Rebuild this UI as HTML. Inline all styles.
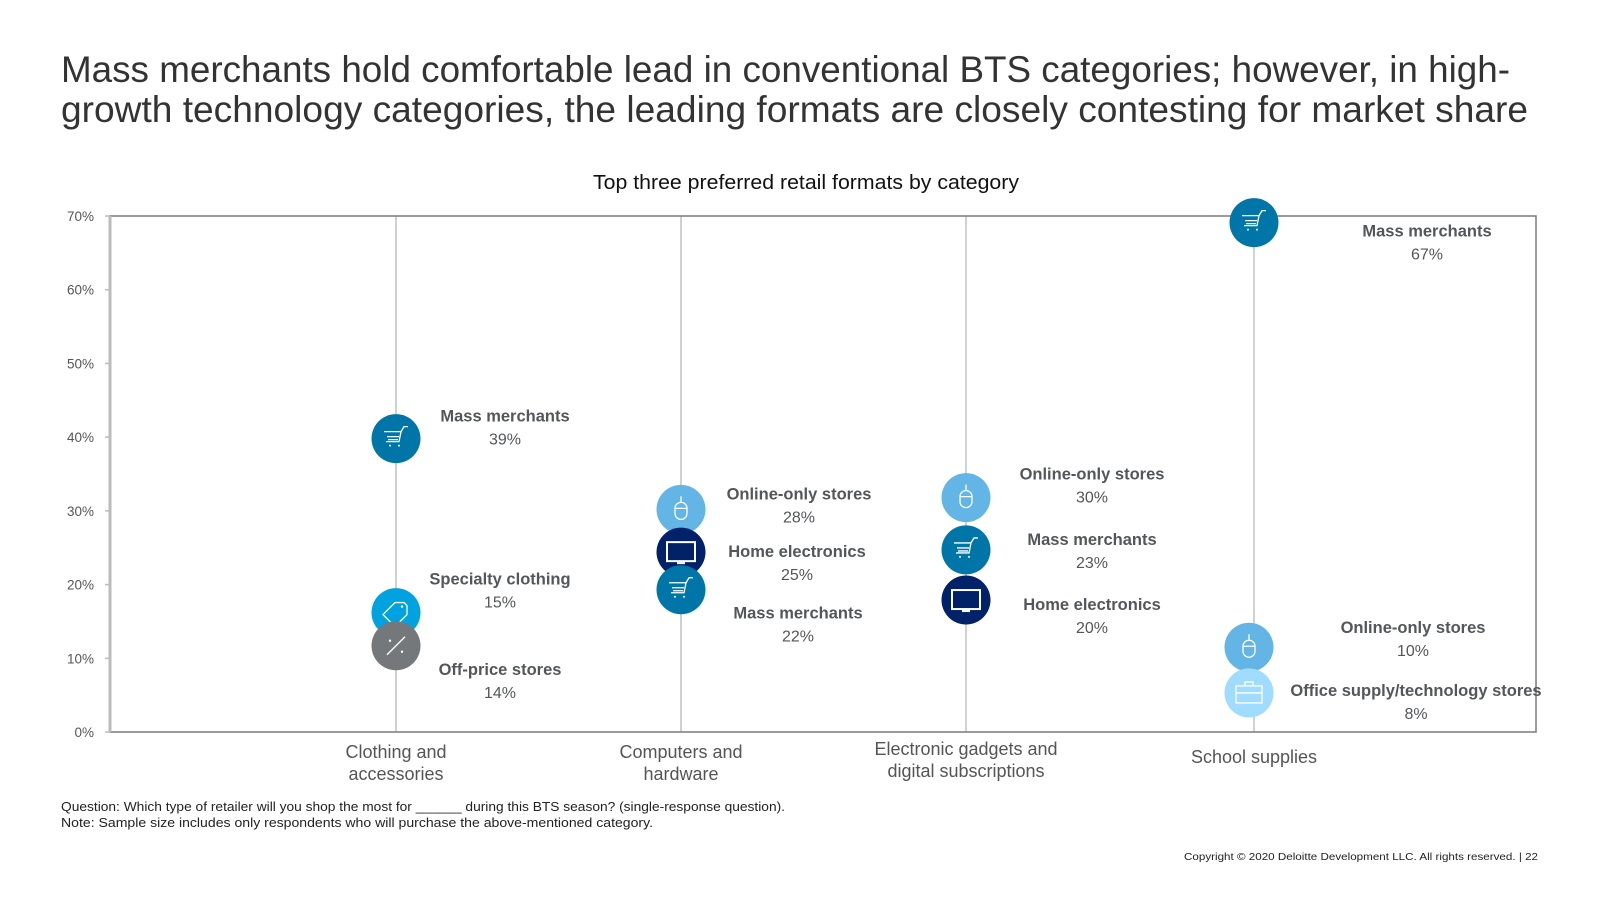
<!DOCTYPE html>
<html><head><meta charset="utf-8"><style>
html,body{margin:0;padding:0;background:#fff;}
svg{display:block;font-family:"Liberation Sans",sans-serif;}
</style></head><body>
<svg id="chart" width="1600" height="900" viewBox="0 0 1600 900">
<text x="61" y="82" font-size="37" fill="#333" textLength="1449" lengthAdjust="spacingAndGlyphs">Mass merchants hold comfortable lead in conventional BTS categories; however, in high-</text>
<text x="61" y="122" font-size="37" fill="#333" textLength="1467" lengthAdjust="spacingAndGlyphs">growth technology categories, the leading formats are closely contesting for market share</text>
<text x="806" y="189" font-size="20" fill="#111" text-anchor="middle" textLength="426" lengthAdjust="spacingAndGlyphs">Top three preferred retail formats by category</text>
<g id="axes"></g>
<g id="marks"></g>
<text x="61" y="811" font-size="12.5" fill="#222" textLength="724" lengthAdjust="spacingAndGlyphs">Question: Which type of retailer will you shop the most for ______ during this BTS season? (single-response question).</text>
<text x="61" y="827" font-size="12.5" fill="#222" textLength="592" lengthAdjust="spacingAndGlyphs">Note: Sample size includes only respondents who will purchase the above-mentioned category.</text>
<text x="1538" y="860" font-size="10.5" fill="#222" text-anchor="end" textLength="354" lengthAdjust="spacingAndGlyphs">Copyright © 2020 Deloitte Development LLC. All rights reserved.  |  22</text>
</svg>
<script>
const categories = ["Clothing and|accessories","Computers and|hardware","Electronic gadgets and|digital subscriptions","School supplies"];
const yTicks = [0,10,20,30,40,50,60,70];
const pointCategory = [0,0,0,1,1,1,2,2,2,3,3,3];
const pointFormat = ["Mass merchants","Specialty clothing","Off-price stores","Online-only stores","Home electronics","Mass merchants","Online-only stores","Mass merchants","Home electronics","Mass merchants","Online-only stores","Office supply/technology stores"];
const pointShare = [39,15,14,28,25,22,30,23,20,67,10,8];
const pointPosition = [39.8,16.2,11.7,30.2,24.4,19.3,31.8,24.7,17.9,69.1,11.5,5.3];

const NS="http://www.w3.org/2000/svg";
const L=110,R=1536,T=216,B=732,YMAX=70;
const catX=[396,681,966,1254];
function y(v){return B-(v/YMAX)*(B-T);}
function x(i){return catX[i];}
function mk(tag,attrs,parent){const e=document.createElementNS(NS,tag);for(const k in attrs)e.setAttribute(k,attrs[k]);parent.appendChild(e);return e;}
const axes=document.getElementById('axes'),marks=document.getElementById('marks');
const fmtColor={"Mass merchants":"#0076a8","Specialty clothing":"#00a3e0","Off-price stores":"#75787b","Online-only stores":"#62b5e5","Home electronics":"#012169","Office supply/technology stores":"#a0dcff"};
const fmtIcon={"Mass merchants":"cart","Specialty clothing":"tag","Off-price stores":"pct","Online-only stores":"mouse","Home electronics":"tv","Office supply/technology stores":"case"};

categories.forEach((c,i)=>{
  const ln=mk('line',{x1:x(i),x2:x(i),y1:T,y2:B,stroke:'#d0d0d0','stroke-width':2},axes);
  
  
  const parts=c.split('|');
  const t=mk('text',{x:x(i),'font-size':18,fill:'#555','text-anchor':'middle'},axes);
  
  
  if(parts.length===1){const s=mk('tspan',{x:x(i),y:763},t);s.textContent=parts[0];}
  else{const off=i===2?-3:0;parts.forEach((p,k)=>{const s=mk('tspan',{x:x(i),y:758+off+k*22},t);s.textContent=p;});}
});
const frame=mk('rect',{x:L,y:T,width:R-L,height:B-T,fill:'none',stroke:'#7a7a7a','stroke-width':1.5},axes);


const yax=mk('line',{x1:L,x2:L,y1:T,y2:B,stroke:'#bbb','stroke-width':3},axes);


yTicks.forEach(v=>{
  const tk=mk('line',{x1:L-5,x2:L,y1:y(v),y2:y(v),stroke:'#bbb','stroke-width':1.5},axes);
  
  
  const t=mk('text',{x:94,y:y(v)+5,'font-size':13.5,fill:'#555','text-anchor':'end'},axes);
  
  
  t.textContent=v+'%';
});
function icon(kind,cx,cy,g){
  const s={fill:'none',stroke:'#fff','stroke-width':1.3};
  if(kind==='cart'){mk('path',Object.assign({d:`M${cx-12} ${cy-7}h17l-2 10h-13M${cx-9} ${cy-2}h12M${cx-8} ${cy+1}h10M${cx+5} ${cy-7}l3 -5h4`},s),g);mk('circle',{cx:cx-6,cy:cy+7,r:1,fill:'#fff'},g);mk('circle',{cx:cx+3,cy:cy+7,r:1,fill:'#fff'},g);}
  else if(kind==='tv'){mk('rect',Object.assign({x:cx-14,y:cy-10,width:28,height:19},s,{'stroke-width':2}),g);mk('path',Object.assign({d:`M${cx-4} ${cy+11}h8`},s,{'stroke-width':2}),g);}
  else if(kind==='mouse'){mk('rect',Object.assign({x:cx-6,y:cy-7,width:12,height:17,rx:6},s),g);mk('path',Object.assign({d:`M${cx} ${cy-7}v-6M${cx-6} ${cy-1}h12`},s),g);}
  else if(kind==='tag'){mk('path',Object.assign({d:`M${cx-13} ${cy+2}l12 -12h9l3 3v9l-12 12z`},s),g);mk('circle',{cx:cx+6,cy:cy-6,r:1.2,fill:'#fff'},g);}
  else if(kind==='pct'){mk('path',Object.assign({d:`M${cx-9} ${cy+9}l18 -18`},s),g);mk('circle',{cx:cx-6,cy:cy-5,r:1.2,fill:'#fff'},g);mk('circle',{cx:cx+6,cy:cy+6,r:1.2,fill:'#fff'},g);}
  else if(kind==='case'){mk('rect',Object.assign({x:cx-13,y:cy-7,width:26,height:17},s),g);mk('path',Object.assign({d:`M${cx-4} ${cy-7}v-4h8v4M${cx-13} ${cy}h26`},s),g);}
}
// label layout (pixel offsets, not data)
const labelDX=[109,104,104,118,116,117,126,126,126,173,159,162];
const labelDY=[-17,-28,29,-10,5,29,-18,-5,10,14,-14,3];
pointShare.forEach((v,i)=>{
  const ci=pointCategory[i];
  const cx=x(ci)-((ci===3&&i>9)?5:0), cy=y(pointPosition[i]);
  const g=mk('g',{},marks);
  
  
  mk('circle',{cx:cx,cy:cy,r:24.5,fill:fmtColor[pointFormat[i]]},g);
  icon(fmtIcon[pointFormat[i]],cx,cy,g);
  const lx=x(ci)+labelDX[i], ly=cy+labelDY[i];
  const n=mk('text',{x:lx,y:ly,'font-size':16.5,'font-weight':'bold',fill:'#53565a','text-anchor':'middle'},marks);
  
  
  n.textContent=pointFormat[i];
  const p=mk('text',{x:lx,y:ly+23,'font-size':16,fill:'#53565a','text-anchor':'middle'},marks);
  
  
  p.textContent=v+'%';
});
</script>
</body></html>
